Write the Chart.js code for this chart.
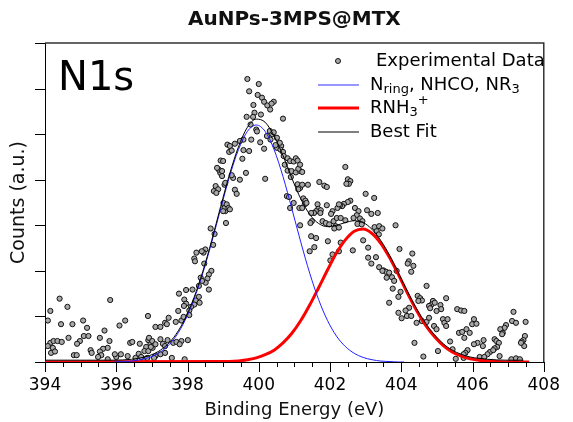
<!DOCTYPE html>
<html>
<head>
<meta charset="utf-8">
<title>AuNPs-3MPS@MTX N1s</title>
<script src="https://cdn.jsdelivr.net/npm/chart.js@4.4.1/dist/chart.umd.min.js"></script>
<style>
  html, body { margin: 0; padding: 0; background: #fff; }
  #chart { display: block; }
</style>
</head>
<body>
<canvas id="chart" width="573" height="422"></canvas>
<script>
// experimental points: binding energy (eV) / counts (a.u.)
const expX = [
  394.41, 394.15, 394.63, 395.83, 394.08, 394.45, 394.77, 395.07, 395.18, 396.25,
  396.09, 396.89, 395.67, 395.09, 395.22, 394.98, 394.90, 394.66, 395.54, 394.15,
  394.24, 394.35, 394.47, 394.08, 394.22, 394.17, 394.28, 395.81, 395.76, 395.63,
  395.54, 395.58, 395.28, 395.31, 394.81, 394.89, 395.76, 396.39, 396.45, 396.66,
  396.90, 396.96, 396.84, 396.79, 396.90, 397.02, 396.00, 396.13, 396.32, 396.54,
  396.63, 396.77, 396.70, 395.49, 395.96, 397.24, 397.37, 397.10,
  397.10, 397.24, 397.37, 398.92, 398.97, 399.04, 398.79, 398.86, 398.74, 398.81,
  399.01, 399.06, 399.08, 399.04, 398.65, 398.76, 398.72, 398.50, 398.45, 398.40,
  398.25, 398.19, 398.21, 398.47, 398.67, 398.60, 398.56, 398.51, 398.37, 398.41,
  398.60, 398.32, 398.14, 397.96, 397.76, 398.32, 398.23, 398.34, 398.19, 398.10,
  398.05, 397.91, 397.96, 397.90, 397.74, 398.05, 397.47, 397.67, 397.83, 397.89,
  397.42, 396.92, 397.01, 397.10, 396.97, 397.24, 397.31, 397.37, 397.44, 397.60,
  397.69, 397.83, 397.78, 398.01, 397.56, 397.92, 397.06, 396.87, 398.88, 398.83,
  399.68, 400.00, 399.73, 399.97, 400.09, 400.15, 400.24, 400.32, 400.42, 400.36,
  399.85, 399.88, 399.84, 399.66, 400.06, 400.68, 399.77, 399.93, 399.95, 400.31,
  400.38, 400.42, 400.56, 400.51, 400.63, 400.61, 400.68, 400.23, 400.33, 399.79,
  400.04, 400.15, 399.57, 399.47, 399.12, 399.19, 399.33, 399.17, 399.24, 399.57,
  399.73, 399.54, 398.93, 399.00, 398.97, 399.64, 399.47, 399.28, 399.24, 399.06,
  400.18, 400.70, 400.81, 400.88, 400.98, 401.04, 401.09, 400.73, 400.81, 400.92,
  401.04, 401.16, 401.11, 400.90, 401.09, 401.16, 401.11, 400.51, 400.59, 400.47,
  399.33, 399.38, 399.10, 399.15, 399.00, 399.19, 400.79, 400.85, 400.88, 400.98,
  401.14, 401.16,
  401.16, 401.22, 402.43, 402.50, 402.57, 402.53, 402.46, 401.70, 401.84, 401.91,
  401.22, 401.38, 403.00, 403.24, 402.57, 402.50, 402.39, 402.34, 402.28, 402.21,
  401.25, 401.31, 401.29, 401.22, 401.34, 401.65, 401.67, 401.61, 401.74, 401.73,
  401.55, 401.47, 401.49, 401.45, 401.91, 402.07, 402.03, 402.25, 401.79, 401.88,
  401.98, 402.10, 402.19, 402.30, 402.43, 402.16, 402.12, 402.25, 402.70, 402.80,
  402.75, 402.66, 402.84, 402.91, 403.04, 403.16, 403.34, 402.77, 402.89, 403.25,
  403.38, 403.47, 403.31, 403.37, 401.47, 401.61, 401.56, 401.43, 401.94, 402.30,
  402.93, 403.07, 402.64, 402.01, 403.07, 403.29, 403.16, 403.50, 403.57, 403.66,
  403.38, 403.47, 403.59, 403.66, 402.07, 402.25,
  403.84, 403.95, 404.31, 404.21, 404.18, 404.34, 404.28, 403.74, 403.80, 403.87,
  403.76, 403.98, 403.92, 404.71, 404.46, 404.53, 404.58, 404.48, 404.89, 404.85,
  404.94, 404.78, 405.26, 405.10, 405.12, 404.81, 404.99, 404.22, 404.12, 404.16,
  404.01, 403.92, 404.28, 405.57, 405.68, 405.77, 404.43, 404.58, 404.71, 404.78,
  404.92, 404.99, 405.17, 405.21, 405.30, 405.26, 405.62, 405.71, 405.83, 405.77,
  405.37, 405.44, 404.37, 405.03, 404.62, 405.53, 405.75,
  406.04, 405.99, 406.11, 405.92, 407.15, 407.11, 407.22, 407.49, 406.94, 406.90,
  406.78, 406.85, 406.83, 407.47, 407.43, 407.38, 407.45, 407.36, 406.31, 406.14,
  406.04, 405.86, 405.80, 406.29, 406.49, 406.42, 406.62, 406.67, 406.74, 406.69,
  406.62, 406.58, 406.20, 406.33, 406.76, 407.09, 407.22, 407.33, 405.75
];
const expY = [
  1.39, 1.12, 1.21, 1.36, 0.91, 0.83, 0.83, 0.91, 0.75, 0.91,
  0.80, 1.01, 0.69, 0.57, 0.57, 0.46, 0.40, 0.53, 0.53, 0.42,
  0.46, 0.46, 0.44, 0.35, 0.31, 0.20, 0.23, 0.46, 0.31, 0.29,
  0.23, 0.15, 0.26, 0.20, 0.15, 0.15, 0.06, 0.42, 0.44, 0.40,
  0.48, 0.39, 0.33, 0.24, 0.24, 0.31, 0.11, 0.17, 0.13, 0.09,
  0.18, 0.06, 0.11, 0.11, 0.17, 0.17, 0.20, 0.13,
  0.77, 0.77, 0.86, 4.15, 4.08, 3.89, 3.86, 3.79, 3.75, 3.71,
  3.49, 3.31, 3.05, 3.38, 2.93, 2.81, 2.57, 2.47, 2.40, 2.43,
  2.40, 2.27, 2.21, 2.16, 2.00, 1.92, 1.83, 1.74, 1.85, 1.78,
  1.59, 1.67, 1.59, 1.58, 1.50, 1.43, 1.35, 1.30, 1.26, 1.21,
  1.13, 1.37, 1.28, 1.23, 1.12, 1.03, 0.97, 0.88, 0.91, 0.99,
  0.83, 0.53, 0.46, 0.39, 0.33, 0.50, 0.40, 0.35, 0.48, 0.42,
  0.44, 0.46, 0.39, 0.48, 0.09, 0.06, 0.09, 0.09, 4.22, 4.26,
  6.21, 6.10, 5.94, 5.86, 5.80, 5.71, 5.63, 5.54, 5.71, 5.67,
  5.64, 5.47, 5.38, 5.38, 5.43, 5.34, 5.21, 5.10, 5.06, 5.07,
  5.00, 5.04, 4.77, 4.70, 4.74, 4.66, 4.61, 4.96, 4.88, 4.88,
  4.82, 4.68, 4.88, 4.85, 4.77, 4.74, 4.79, 4.61, 4.64, 4.65,
  4.63, 4.46, 4.42, 4.41, 4.19, 4.15, 4.00, 4.04, 4.10, 3.93,
  4.02, 4.52, 4.47, 4.41, 4.40, 4.47, 4.42, 4.33, 4.20, 4.19,
  4.16, 4.19, 4.24, 4.06, 3.90, 3.82, 3.79, 4.92, 4.81, 4.76,
  3.78, 3.69, 3.46, 3.38, 3.31, 3.35, 3.64, 3.62, 3.38, 3.49,
  3.38, 3.00,
  4.33, 4.17, 4.28, 4.01, 3.97, 3.91, 3.91, 3.95, 3.87, 3.84,
  3.89, 3.89, 3.69, 3.60, 3.54, 3.51, 3.47, 3.42, 3.44, 3.38,
  3.59, 3.54, 3.46, 3.38, 3.49, 3.46, 3.36, 3.31, 3.33, 3.27,
  3.27, 3.27, 3.09, 3.05, 3.44, 3.31, 3.25, 3.46, 3.09, 3.05,
  3.02, 3.09, 3.16, 3.16, 3.11, 2.98, 2.93, 2.95, 3.38, 3.31,
  3.22, 3.16, 3.15, 3.09, 3.33, 3.25, 3.27, 3.03, 3.02, 2.96,
  2.98, 2.93, 2.87, 2.80, 2.76, 2.72, 2.52, 2.43, 2.65, 2.62,
  2.67, 2.51, 2.45, 2.23, 2.29, 2.30, 2.16, 2.01, 1.98, 1.96,
  2.08, 2.00, 1.85, 1.30, 2.36, 2.43,
  3.00, 2.48, 2.38, 2.21, 2.16, 2.11, 1.98, 1.86, 1.78, 2.00,
  1.61, 1.54, 1.43, 1.67, 1.45, 1.40, 1.35, 1.34, 1.34, 1.26,
  1.30, 1.23, 1.40, 1.25, 1.16, 1.18, 1.12, 1.19, 1.13, 1.01,
  0.96, 1.08, 1.01, 1.16, 1.13, 1.12, 0.86, 0.90, 0.88, 0.97,
  0.79, 0.72, 0.94, 0.86, 0.94, 0.79, 0.64, 0.66, 0.72, 0.53,
  0.45, 0.28, 0.42, 0.24, 0.12, 0.07, 0.09,
  0.94, 0.83, 0.84, 0.64, 1.10, 0.90, 0.86, 0.88, 0.81, 0.75,
  0.72, 0.64, 0.61, 0.57, 0.48, 0.45, 0.35, 0.42, 0.48, 0.42,
  0.39, 0.26, 0.20, 0.35, 0.22, 0.17, 0.50, 0.46, 0.42, 0.33,
  0.30, 0.26, 0.11, 0.11, 0.13, 0.06, 0.08, 0.06, 0.17
];

// fitted components
const ringX = [395.93, 396.18, 396.43, 396.68, 396.93, 397.18, 397.43, 397.68, 397.93, 398.18,
  398.43, 398.68, 398.93, 399.18, 399.43, 399.68, 399.93, 400.18, 400.43, 400.68,
  400.93, 401.18, 401.43, 401.68, 401.93, 402.18, 402.43, 402.68, 402.93, 403.18,
  403.43, 403.68, 403.93, 404.08];
const ringY = [0.00, 0.01, 0.02, 0.05, 0.10, 0.19, 0.34, 0.57, 0.91, 1.37,
  1.95, 2.63, 3.36, 4.07, 4.66, 5.06, 5.20, 5.06, 4.66, 4.07,
  3.36, 2.63, 1.95, 1.37, 0.91, 0.57, 0.34, 0.19, 0.10, 0.05,
  0.02, 0.01, 0.00, 0.00];

const amineX = [394.00, 398.93, 399.18, 399.43, 399.68, 399.93, 400.18, 400.43, 400.68, 400.93,
  401.18, 401.43, 401.68, 401.93, 402.18, 402.43, 402.68, 402.93, 403.18, 403.43,
  403.68, 403.93, 404.18, 404.43, 404.68, 404.93, 405.18, 405.43, 405.68, 405.93,
  406.18, 406.43, 406.68, 406.93, 407.59];
const amineY = [0.00, 0.01, 0.01, 0.02, 0.05, 0.09, 0.16, 0.26, 0.42, 0.63,
  0.91, 1.25, 1.63, 2.02, 2.39, 2.68, 2.87, 2.92, 2.82, 2.60,
  2.28, 1.90, 1.50, 1.13, 0.81, 0.56, 0.36, 0.22, 0.13, 0.07,
  0.04, 0.02, 0.01, 0.00, 0.00];

const fitX = [394.00, 395.00, 395.93, 396.43, 396.68, 396.93, 397.18, 397.43, 397.68, 397.93,
  398.18, 398.43, 398.68, 398.93, 399.18, 399.43, 399.68, 399.93, 400.18, 400.43,
  400.68, 400.93, 401.18, 401.43, 401.68, 401.93, 402.18, 402.43, 402.68, 402.93,
  403.18, 403.43, 403.68, 403.93, 404.18, 404.43, 404.68, 404.93, 405.18, 405.43,
  405.68, 405.93, 406.18, 406.43, 406.93, 407.43];
const fitY = [0.04, 0.04, 0.04, 0.06, 0.09, 0.14, 0.23, 0.38, 0.61, 0.95,
  1.41, 1.99, 2.67, 3.41, 4.12, 4.72, 5.15, 5.33, 5.26, 4.96,
  4.53, 4.03, 3.58, 3.24, 3.04, 2.97, 3.00, 3.06, 3.10, 3.06,
  2.91, 2.66, 2.33, 1.94, 1.54, 1.17, 0.85, 0.60, 0.40, 0.26,
  0.17, 0.11, 0.08, 0.06, 0.04, 0.04];

const FONT = '"DejaVu Sans", Verdana, sans-serif';

const pts = (xs, ys) => xs.map((x, i) => ({ x: x, y: ys[i] }));

// draws text pieces side by side, pieces marked 'sub' / 'sup' get smaller and shifted
function richText(ctx, x, y, parts) {
  parts.forEach(p => {
    const s = p[0], mode = p[1] || '';
    ctx.font = (mode ? 13 : 18) + 'px ' + FONT;
    const dy = mode === 'sub' ? 5 : (mode === 'sup' ? -7 : 0);
    ctx.fillText(s, x, y + dy);
    x += ctx.measureText(s).width;
  });
}

const legendRows = [
  { kind: 'point', y: 61, parts: [['Experimental Data']] },
  { kind: 'line', color: '#3030ff', width: 1, y: 85, parts: [['N'], ['ring', 'sub'], [', NHCO, NR'], ['3', 'sub']] },
  { kind: 'line', color: '#ff0000', width: 3, y: 108, parts: [['RNH'], ['3', 'sub'], ['+', 'sup']] },
  { kind: 'line', color: '#000', width: 1, y: 132, parts: [['Best Fit']] }
];

const decorations = {
  id: 'decorations',
  afterDraw(chart) {
    const ctx = chart.ctx, a = chart.chartArea;
    const xs = chart.scales.x, ys = chart.scales.y;
    ctx.save();

    // outward tick marks
    ctx.strokeStyle = '#000';
    ctx.lineWidth = 1;
    ctx.beginPath();
    xs.ticks.forEach(t => {
      const px = Math.round(xs.getPixelForValue(t.value)) + 0.5;
      const len = (Math.abs(t.value % 2) < 1e-6) ? 10 : 5;
      ctx.moveTo(px, a.bottom);
      ctx.lineTo(px, a.bottom + len);
    });
    ys.ticks.forEach(t => {
      const py = Math.round(ys.getPixelForValue(t.value)) + 0.5;
      ctx.moveTo(a.left - 10, py);
      ctx.lineTo(a.left, py);
    });
    ctx.stroke();

    // top and right frame
    ctx.strokeStyle = '#333';
    ctx.lineWidth = 1.5;
    ctx.beginPath();
    ctx.moveTo(a.left, a.top);
    ctx.lineTo(a.right, a.top);
    ctx.lineTo(a.right, a.bottom);
    ctx.stroke();

    // N1s tag
    ctx.fillStyle = '#000';
    ctx.textBaseline = 'alphabetic';
    ctx.textAlign = 'left';
    ctx.font = '40px ' + FONT;
    ctx.fillText('N1s', 58, 90);

    // legend
    ctx.textBaseline = 'middle';
    legendRows.forEach(r => {
      if (r.kind === 'point') {
        ctx.beginPath();
        ctx.arc(338, r.y, 2.5, 0, Math.PI * 2);
        ctx.fillStyle = '#a8a8a8';
        ctx.fill();
        ctx.strokeStyle = '#111';
        ctx.lineWidth = 1;
        ctx.stroke();
        ctx.fillStyle = '#000';
        richText(ctx, 376, r.y, r.parts);
      } else {
        ctx.beginPath();
        ctx.moveTo(318, r.y);
        ctx.lineTo(359, r.y);
        ctx.strokeStyle = r.color;
        ctx.lineWidth = r.width;
        ctx.stroke();
        ctx.fillStyle = '#000';
        richText(ctx, 370, r.y, r.parts);
      }
    });
    ctx.restore();
  }
};

new Chart(document.getElementById('chart'), {
  type: 'scatter',
  data: {
    datasets: [
      {
        label: 'Best Fit', data: pts(fitX, fitY), showLine: true, order: 0,
        borderColor: '#000', borderWidth: 1, pointRadius: 0, cubicInterpolationMode: 'monotone'
      },
      {
        label: 'Nring, NHCO, NR3', data: pts(ringX, ringY), showLine: true, order: 1,
        borderColor: '#2020ff', borderWidth: 1, pointRadius: 0, cubicInterpolationMode: 'monotone'
      },
      {
        label: 'RNH3+', data: pts(amineX, amineY), showLine: true, order: 2,
        borderColor: '#ff0000', borderWidth: 3, pointRadius: 0, cubicInterpolationMode: 'monotone'
      },
      {
        label: 'Experimental Data', data: pts(expX, expY), order: 3,
        pointRadius: 2.6, pointBackgroundColor: '#a8a8a8', pointBorderColor: '#111', pointBorderWidth: 1
      }
    ]
  },
  options: {
    responsive: false,
    animation: false,
    events: [],
    layout: { padding: { left: 0, right: 16, top: 0, bottom: 0 } },
    plugins: {
      legend: { display: false },
      tooltip: { enabled: false },
      title: {
        display: true, fullSize: false, text: 'AuNPs-3MPS@MTX', color: '#111',
        font: { family: FONT, size: 20, weight: 'bold' },
        padding: { top: 8, bottom: 11 }
      }
    },
    scales: {
      x: {
        type: 'linear', min: 394, max: 408,
        ticks: {
          stepSize: 0.5, autoSkip: false, maxRotation: 0, padding: 13, color: '#000',
          font: { family: FONT, size: 17 },
          callback: v => (Math.abs(v % 2) < 1e-6 ? String(v) : '')
        },
        grid: { display: false, drawTicks: false },
        border: { display: true, color: '#000', width: 1 },
        title: {
          display: true, text: 'Binding Energy (eV)', color: '#111',
          font: { family: FONT, size: 18 }, padding: { top: 0, bottom: 1 }
        },
        afterFit: s => { s.height = 60; }
      },
      y: {
        type: 'linear', min: 0, max: 7,
        ticks: { display: false, stepSize: 1 },
        grid: { display: false, drawTicks: false },
        border: { display: true, color: '#000', width: 1 },
        title: {
          display: true, text: 'Counts (a.u.)', color: '#111',
          font: { family: FONT, size: 19 }, padding: { top: 8, bottom: 0 }
        },
        afterFit: s => { s.width = 45; }
      }
    }
  },
  plugins: [decorations]
});
</script>
</body>
</html>
